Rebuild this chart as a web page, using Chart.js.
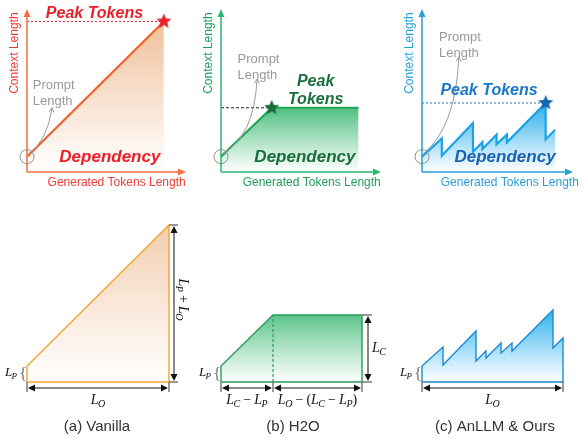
<!DOCTYPE html>
<html>
<head>
<meta charset="utf-8">
<script src="https://cdn.jsdelivr.net/npm/chart.js@4.4.1/dist/chart.umd.min.js"></script>
<style>
  html, body { margin: 0; padding: 0; background: #fff; }
  #wrap { position: relative; width: 582px; height: 444px; overflow: hidden; }
  canvas { position: absolute; }
</style>
</head>
<body>
<div id="wrap">
  <canvas id="top-a" width="195" height="200" style="left:0;top:0"></canvas>
  <canvas id="top-b" width="195" height="200" style="left:195px;top:0"></canvas>
  <canvas id="top-c" width="192" height="200" style="left:390px;top:0"></canvas>
  <canvas id="bot-a" width="195" height="244" style="left:0;top:200px"></canvas>
  <canvas id="bot-b" width="195" height="244" style="left:195px;top:200px"></canvas>
  <canvas id="bot-c" width="192" height="244" style="left:390px;top:200px"></canvas>
</div>
<script>
// generated tokens (x) vs context length (y), same units in both rows
const vanillaX = [0, 142];
const vanillaY = [16, 157];
const h2oX = [0, 52, 141];
const h2oY = [16, 67, 67];
const oursX = [0, 21, 21, 54, 54, 64, 64, 79, 79, 90, 90, 131, 131, 141];
const oursY = [16, 35, 17, 51, 21, 31, 24, 39, 29, 39, 31, 72, 34, 44];

const captions = ['(a) Vanilla', '(b) H2O', '(c) AnLLM & Ours'];
const axisTitles = ['Context Length', 'Generated Tokens Length'];

const SANS = '"Liberation Sans", Arial, sans-serif';
const SERIF = '"Liberation Serif", "Times New Roman", serif';

const panels = [
  { id: 'a', xs: vanillaX, ys: vanillaY, padL: 27, xMax: 165, cap: captions[0],
    axis: '#f4703f', title: '#ec3d35', line: '#f2602c', fillTop: '#f0bf98',
    outline: '#f7a233', fillTop2: '#f2cdae', peakLine: '#e8242c', peakDash: [2, 2],
    star: '#e8202a', word: '#e8202a', dep: '#e8202a',
    peakText: ['Peak Tokens'], peakAt: [70, 165], depAt: [86, 15],
    promptAt: [6, 90], promptCtrl: [21, 32], promptTip: [26, 67],
    hdims: [[0, 142, 'L_O']], vdim: { x: 147, y1: 157, label: 'L_P + L_O', rot: true },
    capAt: 70 },
  { id: 'b', xs: h2oX, ys: h2oY, padL: 26, xMax: 164, cap: captions[1],
    axis: '#2bb673', title: '#1f9d5a', line: '#20a85a', fillTop: '#4fbf80',
    outline: '#2a9d55', fillTop2: '#5cc48a', peakLine: '#222', peakDash: [3, 2],
    star: '#196b3a', word: '#1a6e3c', dep: '#1a6e3c',
    peakText: ['Peak', 'Tokens'], peakAt: [97, 85], depAt: [86, 15],
    promptAt: [17, 117], promptCtrl: [34, 37], promptTip: [37, 97],
    hdims: [[0, 52, 'L_C − L_P'], [52, 141, 'L_O − (L_C − L_P)']], vdim: { x: 147, y1: 67, label: 'L_C', rot: false },
    capAt: 72 },
  { id: 'c', xs: oursX, ys: oursY, padL: 32, xMax: 160, cap: captions[2],
    axis: '#2a9fd6', title: '#2a9fd6', line: '#1aa3e8', fillTop: '#26acea',
    outline: '#1c8ad2', fillTop2: '#2cb2ee', peakLine: '#1a7cc8', peakDash: [2, 2],
    star: '#1a66b2', word: '#1b78c8', dep: '#1a62b0',
    peakText: ['Peak Tokens'], peakAt: [71, 85], depAt: [88, 15],
    promptAt: [18, 140], promptCtrl: [36, 47], promptTip: [39, 120],
    hdims: [[0, 141, 'L_O']], vdim: null,
    capAt: 73 }
];

function makeStar(color, r) {
  const c = document.createElement('canvas');
  c.width = c.height = r * 2 + 2;
  const g = c.getContext('2d');
  g.beginPath();
  for (let i = 0; i < 10; i++) {
    const a = -Math.PI / 2 + i * Math.PI / 5;
    const rr = i % 2 ? r * 0.45 : r;
    g.lineTo(r + 1 + rr * Math.cos(a), r + 1 + rr * Math.sin(a));
  }
  g.closePath();
  g.fillStyle = color;
  g.fill();
  return c;
}

function gradientFill(top, topVal) {
  return (ctx) => {
    const chart = ctx.chart;
    if (!chart.chartArea) return 'rgba(0,0,0,0)';
    const y = chart.scales.y;
    const g = chart.ctx.createLinearGradient(0, y.getPixelForValue(topVal), 0, y.getPixelForValue(0));
    g.addColorStop(0, top);
    g.addColorStop(1, 'rgba(255,255,255,0.9)');
    return g;
  };
}

// italic L with subscript, everything else upright serif
function drawMath(ctx, str, cx, cy, size) {
  const parts = [];
  for (let i = 0; i < str.length; i++) {
    const ch = str[i];
    if (ch === 'L' && str[i + 1] === '_') {
      parts.push({ t: 'L', f: `italic ${size}px ${SERIF}`, dy: 0, k: -0.5 });
      parts.push({ t: str[i + 2], f: `italic ${Math.round(size * 0.7)}px ${SERIF}`, dy: size * 0.28, k: 0 });
      i += 2;
    } else if (ch === ' ') {
      parts.push({ t: '', f: `${size}px ${SERIF}`, dy: 0, k: size * 0.22 });
    } else {
      parts.push({ t: ch, f: `${size}px ${SERIF}`, dy: 0, k: 0 });
    }
  }
  let w = 0;
  parts.forEach(p => { ctx.font = p.f; p.w = ctx.measureText(p.t).width + p.k; w += p.w; });
  let x = cx - w / 2;
  ctx.textAlign = 'left';
  ctx.textBaseline = 'middle';
  parts.forEach(p => { ctx.font = p.f; ctx.fillText(p.t, x, cy + p.dy); x += p.w; });
}

function arrowHead(ctx, x, y, ang, len, half) {
  ctx.beginPath();
  ctx.moveTo(x, y);
  ctx.lineTo(x - len * Math.cos(ang) + half * Math.sin(ang), y - len * Math.sin(ang) - half * Math.cos(ang));
  ctx.lineTo(x - len * Math.cos(ang) - half * Math.sin(ang), y - len * Math.sin(ang) + half * Math.cos(ang));
  ctx.closePath();
  ctx.fill();
}

function topDecor(p) {
  return {
    id: 'topDecor',
    afterDatasetsDraw(chart) {
      const { ctx, scales: { x, y } } = chart;
      const X = v => x.getPixelForValue(v), Y = v => y.getPixelForValue(v);
      ctx.save();
      // axes with arrows
      ctx.strokeStyle = p.axis; ctx.fillStyle = p.axis; ctx.lineWidth = 1.5;
      ctx.beginPath();
      ctx.moveTo(X(0), Y(0)); ctx.lineTo(X(0), Y(y.max) + 5);
      ctx.moveTo(X(0), Y(0)); ctx.lineTo(X(x.max) - 5, Y(0));
      ctx.stroke();
      arrowHead(ctx, X(0), Y(y.max), -Math.PI / 2, 8, 3.5);
      arrowHead(ctx, X(x.max), Y(0), 0, 8, 3.5);
      // axis titles
      ctx.fillStyle = p.title;
      ctx.font = `12px ${SANS}`;
      ctx.textAlign = 'center'; ctx.textBaseline = 'middle';
      ctx.fillText(axisTitles[1], X(93), Y(-11));
      ctx.save();
      ctx.translate(X(-13), Y(124));
      ctx.rotate(-Math.PI / 2);
      ctx.fillText(axisTitles[0], 0, 0);
      ctx.restore();
      // prompt length note with curved arrow
      ctx.strokeStyle = '#9a9a9a'; ctx.fillStyle = '#9a9a9a'; ctx.lineWidth = 1;
      const sx = X(1.5), sy = Y(19), cx = X(p.promptCtrl[0]), cy = Y(p.promptCtrl[1]);
      const tx = X(p.promptTip[0]), ty = Y(p.promptTip[1]);
      ctx.beginPath(); ctx.moveTo(sx, sy); ctx.quadraticCurveTo(cx, cy, tx, ty); ctx.stroke();
      const ang = Math.atan2(ty - cy, tx - cx);
      ctx.beginPath();
      ctx.moveTo(tx - 5 * Math.cos(ang - 0.5), ty - 5 * Math.sin(ang - 0.5));
      ctx.lineTo(tx, ty);
      ctx.lineTo(tx - 5 * Math.cos(ang + 0.5), ty - 5 * Math.sin(ang + 0.5));
      ctx.stroke();
      ctx.font = `13px ${SANS}`;
      ctx.textAlign = 'left';
      ctx.fillText('Prompt', X(p.promptAt[0]), Y(p.promptAt[1]));
      ctx.fillText('Length', X(p.promptAt[0]), Y(p.promptAt[1]) + 16);
      // labels
      ctx.textAlign = 'center';
      ctx.font = `italic bold 16px ${SANS}`;
      ctx.fillStyle = p.word;
      const n = p.peakText.length;
      p.peakText.forEach((t, i) => ctx.fillText(t, X(p.peakAt[0]), Y(p.peakAt[1]) + (i - (n - 1) / 2) * 18));
      ctx.font = `italic bold 17px ${SANS}`;
      ctx.fillStyle = p.dep;
      ctx.fillText('Dependency', X(p.depAt[0]), Y(p.depAt[1]));
      ctx.restore();
    }
  };
}

function botDecor(p) {
  return {
    id: 'botDecor',
    afterDatasetsDraw(chart) {
      const { ctx, scales: { x, y } } = chart;
      const X = v => x.getPixelForValue(v), Y = v => y.getPixelForValue(v);
      ctx.save();
      const yd = Y(-6);
      // extension ticks
      ctx.strokeStyle = '#7a7a7a'; ctx.lineWidth = 1.5;
      const ticks = new Set();
      p.hdims.forEach(d => { ticks.add(d[0]); ticks.add(d[1]); });
      ctx.beginPath();
      ticks.forEach(v => { ctx.moveTo(X(v), Y(0)); ctx.lineTo(X(v), Y(-10)); });
      if (p.vdim) {
        ctx.moveTo(X(p.xs[p.xs.length - 1]), Y(0)); ctx.lineTo(X(p.vdim.x + 4), Y(0));
        ctx.moveTo(X(p.xs[p.xs.length - 1]), Y(p.vdim.y1)); ctx.lineTo(X(p.vdim.x + 4), Y(p.vdim.y1));
      }
      ctx.stroke();
      // dimension arrows
      ctx.strokeStyle = '#111'; ctx.fillStyle = '#111'; ctx.lineWidth = 1;
      p.hdims.forEach(d => {
        const a = X(d[0]) + 1, b = X(d[1]) - 1;
        ctx.beginPath(); ctx.moveTo(a + 4, yd); ctx.lineTo(b - 4, yd); ctx.stroke();
        arrowHead(ctx, a, yd, Math.PI, 7, 3.5);
        arrowHead(ctx, b, yd, 0, 7, 3.5);
        drawMath(ctx, d[2], (X(d[0]) + X(d[1])) / 2, Y(-18), 14);
      });
      if (p.vdim) {
        const vx = X(p.vdim.x), t = Y(p.vdim.y1) + 1, b = Y(0) - 1;
        ctx.beginPath(); ctx.moveTo(vx, t + 4); ctx.lineTo(vx, b - 4); ctx.stroke();
        arrowHead(ctx, vx, t, -Math.PI / 2, 7, 3.5);
        arrowHead(ctx, vx, b, Math.PI / 2, 7, 3.5);
        if (p.vdim.rot) {
          ctx.save();
          ctx.translate(X(p.vdim.x + 9), Y(p.vdim.y1 / 2 + 4));
          ctx.rotate(Math.PI / 2);
          drawMath(ctx, p.vdim.label, 0, 0, 14);
          ctx.restore();
        } else {
          drawMath(ctx, p.vdim.label, X(p.vdim.x + 11), Y(p.vdim.y1 / 2), 14);
        }
      }
      // prompt brace
      ctx.fillStyle = '#777';
      ctx.font = `17px ${SERIF}`;
      ctx.textAlign = 'center'; ctx.textBaseline = 'middle';
      ctx.fillText('{', X(-4), Y(p.ys[0] / 2) + 1);
      ctx.fillStyle = '#111';
      drawMath(ctx, 'L_P', X(-16), Y(p.ys[0] / 2) - 1, 13);
      // caption
      ctx.fillStyle = '#333';
      ctx.font = `15px ${SANS}`;
      ctx.textAlign = 'center'; ctx.textBaseline = 'middle';
      ctx.fillText(p.cap, X(p.capAt), Y(-45));
      ctx.restore();
    }
  };
}

const baseOpts = (p, padT, padB, yMax, canvasW) => ({
  responsive: false,
  animation: false,
  events: [],
  layout: { padding: { left: p.padL, right: canvasW - p.padL - p.xMax, top: padT, bottom: padB } },
  scales: {
    x: { type: 'linear', min: 0, max: p.xMax, display: false },
    y: { type: 'linear', min: 0, max: yMax, display: false }
  },
  plugins: { legend: { display: false }, tooltip: { enabled: false } }
});

panels.forEach(p => {
  const pts = p.xs.map((x, i) => ({ x, y: p.ys[i] }));
  const peakY = Math.max(...p.ys);
  const peakX = p.xs[p.ys.indexOf(peakY)];
  const lastX = p.xs[p.xs.length - 1];
  const canvasW = document.getElementById('top-' + p.id).width;

  // upper row: context length over generation
  new Chart(document.getElementById('top-' + p.id), {
    type: 'scatter',
    data: {
      datasets: [
        { data: pts, showLine: true, borderColor: p.line, borderWidth: 2.2, pointRadius: 0,
          fill: 'origin', backgroundColor: gradientFill(p.fillTop, peakY), clip: false, order: 3 },
        { data: [{ x: 0, y: peakY }, { x: peakX, y: peakY }], showLine: true, borderColor: p.peakLine,
          borderWidth: 1, borderDash: p.peakDash, pointRadius: 0, clip: false, order: 2 },
        { data: [pts[0]], pointStyle: 'circle', pointRadius: 7, borderColor: '#8f8f8f', borderWidth: 1,
          backgroundColor: 'rgba(0,0,0,0)', clip: false, order: 1 },
        { data: [{ x: peakX, y: peakY }], pointStyle: makeStar(p.star, 8), pointRadius: 8, clip: false, order: 0 }
      ]
    },
    options: baseOpts(p, 2, 28, 170, canvasW),
    plugins: [topDecor(p)]
  });

  // lower row: memory footprint area
  const outline = [{ x: 0, y: 0 }, ...pts, { x: lastX, y: 0 }, { x: 0, y: 0 }];
  const bottomSets = [
    { data: pts, showLine: true, borderWidth: 0, borderColor: 'rgba(0,0,0,0)', pointRadius: 0,
      fill: 'origin', backgroundColor: gradientFill(p.fillTop2, peakY), clip: false, order: 3 },
    { data: outline, showLine: true, borderColor: p.outline, borderWidth: 1.4, pointRadius: 0,
      fill: false, clip: false, order: 1 }
  ];
  if (p.id === 'b') {
    bottomSets.push({ data: [{ x: h2oX[1], y: 0 }, { x: h2oX[1], y: h2oY[1] }], showLine: true,
      borderColor: p.outline, borderWidth: 1.2, borderDash: [3, 2], pointRadius: 0, clip: false, order: 2 });
  }
  new Chart(document.getElementById('bot-' + p.id), {
    type: 'scatter',
    data: { datasets: bottomSets },
    options: baseOpts(p, 22, 62, 160, canvasW),
    plugins: [botDecor(p)]
  });
});
</script>
</body>
</html>
